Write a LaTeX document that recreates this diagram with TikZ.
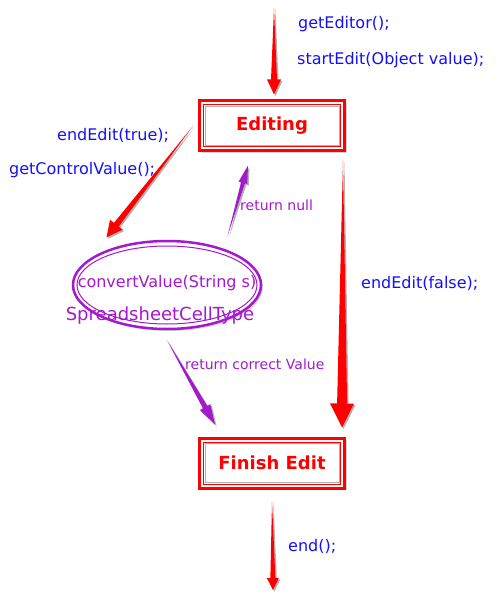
\documentclass[tikz,border=0pt]{standalone}
\usepackage{fontspec}
\setmainfont{DejaVu Sans}
\usepackage{xcolor}
\usepackage{tikz}
\usetikzlibrary{calc,shapes.geometric,shadows}

\definecolor{callblue}{RGB}{20,15,250}
\definecolor{convpurple}{RGB}{165,25,205}

\tikzset{
  statebox/.style={rectangle, draw=red, line width=3pt, fill=white, text=red,
    minimum width=145pt, minimum height=50pt, inner sep=0pt,
    font=\fontsize{18}{20}\selectfont\bfseries,
    drop shadow={shadow xshift=2pt, shadow yshift=-2pt, fill=black!35}},
  convoval/.style={ellipse, draw=convpurple, line width=2.5pt, fill=white,
    minimum width=188pt, minimum height=88pt, inner sep=0pt,
    drop shadow={shadow xshift=2pt, shadow yshift=-2pt, fill=black!35}},
  calltext/.style={anchor=west, inner sep=0pt, text=callblue, font=\fontsize{16}{18}\selectfont},
  notetext/.style={anchor=west, inner sep=0pt, text=convpurple, font=\fontsize{14}{16}\selectfont}
}

% tapered arrow: colour, from, to, body half width, head half width, head length
\newcommand{\flowarrow}[6]{%
  \coordinate (fa-h) at ($(#3)!#6!(#2)$);
  \fill[black, opacity=0.3, transform canvas={shift={(1.5pt,-1.5pt)}}] (#2) -- ($(fa-h)!#4!90:(#2)$) -- ($(fa-h)!#5!90:(#2)$) -- (#3) -- ($(fa-h)!#5!-90:(#2)$) -- ($(fa-h)!#4!-90:(#2)$) -- cycle;
  \fill[#1] (#2) -- ($(fa-h)!#4!90:(#2)$) -- ($(fa-h)!#5!90:(#2)$) -- (#3) -- ($(fa-h)!#5!-90:(#2)$) -- ($(fa-h)!#4!-90:(#2)$) -- cycle;
}

\begin{document}
\begin{tikzpicture}[x=1pt, y=-1pt]
  \useasboundingbox (0,0) rectangle (502,596);

  % states
  \node[statebox] (editing) at (272,126) {Editing};
  \node[statebox] (finish) at (272,463) {Finish Edit};
  \foreach \b in {editing,finish} {
    \draw[red, line width=1pt] ([shift={(5.5,5.5)}]\b.north west) rectangle ([shift={(-5.5,-5.5)}]\b.south east);
    \draw[black!30, line width=1pt] ([shift={(7,7)}]\b.north west) rectangle ([shift={(-7,-7)}]\b.south east);
  }

  % conversion step
  \node[convoval] (conv) at (167,285) {};
  \draw[convpurple, line width=1pt] (conv.center) ellipse [x radius=90, y radius=39];
  \node[inner sep=0pt, text=convpurple, font=\fontsize{16}{18}\selectfont] (convname) at (167,283) {convertValue(String s)};
  \node[inner sep=0pt, text=convpurple, font=\fontsize{18}{20}\selectfont] (celltype) at (160,316) {SpreadsheetCellType};

  % free ends
  \coordinate (in) at (274,8);
  \coordinate (out) at (273,590);

  % arrows
  \flowarrow{red}{in}{[xshift=2pt,yshift=5pt]editing.north}{3pt}{7pt}{15pt}
  \flowarrow{red}{[xshift=-5pt]editing.west}{[xshift=-11pt,yshift=9pt]conv.142}{3pt}{8pt}{16pt}
  \flowarrow{convpurple}{[yshift=14pt]conv.30}{[xshift=-24pt,yshift=-13pt]editing.south}{2pt}{4.5pt}{18pt}
  \flowarrow{convpurple}{[yshift=-10pt]conv.south}{[xshift=-57pt,yshift=12pt]finish.north}{2.5pt}{6pt}{20pt}
  \flowarrow{red}{[xshift=-3pt,yshift=-8pt]editing.south east}{[xshift=-4pt,yshift=9pt]finish.north east}{5pt}{12pt}{24pt}
  \flowarrow{red}{[yshift=-12pt]finish.south}{out}{2.5pt}{6pt}{12pt}

  % calls
  \node[calltext] (geteditor) at (298,24) {getEditor();};
  \node[calltext] (startedit) at (297,60) {startEdit(Object value);};
  \node[calltext] (endtrue) at (57,135) {endEdit(true);};
  \node[calltext] (getvalue) at (9,170) {getControlValue();};
  \node[calltext] (endfalse) at (361,283) {endEdit(false);};
  \node[calltext] (endcall) at (288,546) {end();};

  % returns
  \node[notetext] (retnull) at (240,205) {return null};
  \node[notetext] (retvalue) at (185,364) {return correct Value};
\end{tikzpicture}
\end{document}
